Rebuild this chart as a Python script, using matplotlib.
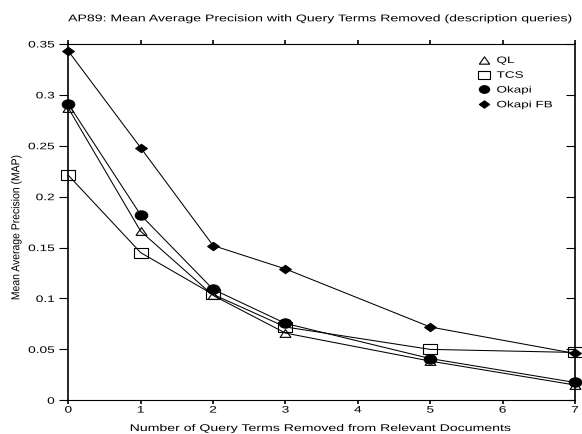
import matplotlib
matplotlib.use('Agg')
import matplotlib.pyplot as plt
from matplotlib.path import Path
from matplotlib.lines import Line2D
from matplotlib.transforms import Affine2D
from matplotlib.patheffects import AbstractPathEffect

plt.rcParams['font.family'] = ['Liberation Sans', 'DejaVu Sans']

terms_removed = [0, 1, 2, 3, 5, 7]
ql = [0.287, 0.166, 0.103, 0.066, 0.0385, 0.015]
tcs = [0.221, 0.145, 0.104, 0.072, 0.050, 0.047]
okapi = [0.291, 0.182, 0.109, 0.0755, 0.041, 0.0175]
okapi_fb = [0.343, 0.248, 0.152, 0.129, 0.072, 0.046]
series_names = ['QL', 'TCS', 'Okapi', 'Okapi FB']

x_ticks = [0, 1, 2, 3, 4, 5, 6, 7]
y_ticks = [0, 0.05, 0.1, 0.15, 0.2, 0.25, 0.3, 0.35]
y_tick_labels = ['0', '0.05', '0.1', '0.15', '0.2', '0.25', '0.3', '0.35']

STRETCH = 1.45


class HStretch(AbstractPathEffect):
    """Widen text horizontally around its left edge, centre or right edge."""

    def __init__(self, sx, anchor='center'):
        super().__init__()
        self.sx = sx
        self.anchor = anchor

    def draw_path(self, renderer, gc, tpath, affine, rgbFace=None):
        bb = tpath.get_extents(affine)
        if self.anchor == 'left':
            cx = bb.x0
        elif self.anchor == 'right':
            cx = bb.x1
        else:
            cx = 0.5 * (bb.x0 + bb.x1)
        t = affine + Affine2D().translate(-cx, 0).scale(self.sx, 1).translate(cx, 0)
        renderer.draw_path(gc, tpath, t, rgbFace)


# markers are wider than tall in the reference
tri = Path([(-0.7, -0.5), (0.7, -0.5), (0, 0.5), (-0.7, -0.5)],
           [Path.MOVETO, Path.LINETO, Path.LINETO, Path.CLOSEPOLY])
sq = Path([(-0.7, -0.48), (0.7, -0.48), (0.7, 0.48), (-0.7, 0.48), (-0.7, -0.48)],
          [Path.MOVETO, Path.LINETO, Path.LINETO, Path.LINETO, Path.CLOSEPOLY])
ell = Path.unit_circle().transformed(Affine2D().scale(0.7, 0.52))
dia = Path([(0, 0.5), (0.7, 0), (0, -0.5), (-0.7, 0), (0, 0.5)],
           [Path.MOVETO, Path.LINETO, Path.LINETO, Path.LINETO, Path.CLOSEPOLY])

styles = [
    dict(marker=tri, markersize=7.8, markerfacecolor='none'),
    dict(marker=sq, markersize=9.7, markerfacecolor='none'),
    dict(marker=ell, markersize=9.0, markerfacecolor='black'),
    dict(marker=dia, markersize=8.4, markerfacecolor='black'),
]
legend_sizes = [7.4, 8.0, 7.4, 7.4]

fig = plt.figure(figsize=(5.82, 4.35), dpi=100)
ax = fig.add_axes([0.1174, 0.0775, 0.8706, 0.8191])

for ys, name, st in zip([ql, tcs, okapi, okapi_fb], series_names, styles):
    ax.plot(terms_removed, ys, color='black', linewidth=0.75,
            markeredgecolor='black', markeredgewidth=0.8, label=name,
            clip_on=False, **st)

ax.set_xlim(0, 7)
ax.set_ylim(0, 0.35)
ax.set_xticks(x_ticks)
ax.set_yticks(y_ticks)
ax.set_yticklabels(y_tick_labels)
ax.tick_params(axis='x', labelsize=6.8, length=3, width=1.2, direction='out',
               pad=0.8, top=True)
ax.tick_params(axis='y', labelsize=6.8, length=6.5, width=0.8, direction='out',
               pad=3.4, right=True)
ax.spines['left'].set_linewidth(1.2)
ax.spines['right'].set_linewidth(1.2)
ax.spines['top'].set_linewidth(0.8)
ax.spines['bottom'].set_linewidth(0.8)

# right-hand ticks point inwards
for tick in ax.yaxis.get_major_ticks():
    tick.tick2line.set_marker(0)

for lab in ax.get_xticklabels():
    lab.set_path_effects([HStretch(STRETCH, 'center')])
for lab in ax.get_yticklabels():
    lab.set_path_effects([HStretch(STRETCH, 'right')])

fig.text(320 / 582, 1 - 22.3 / 435,
         'AP89: Mean Average Precision with Query Terms Removed (description queries)',
         fontsize=7, ha='center', va='baseline',
         path_effects=[HStretch(STRETCH, 'center')])
fig.text(320.5 / 582, 1 - 432 / 435,
         'Number of Query Terms Removed from Relevant Documents',
         fontsize=7, ha='center', va='baseline',
         path_effects=[HStretch(STRETCH, 'center')])
fig.text(16 / 582, 1 - 228.5 / 435, 'Mean Average Precision (MAP)',
         fontsize=7.5, rotation=90, ha='center', va='center',
         path_effects=[HStretch(1.1, 'center')])

handles = [Line2D([], [], linestyle='none', color='black', markeredgecolor='black',
                  markeredgewidth=0.8, **dict(st, markersize=ms))
           for st, ms in zip(styles, legend_sizes)]
leg = ax.legend(handles, series_names, loc='upper left',
                bbox_to_anchor=(479 / 582, 1 - 57 / 435),
                bbox_transform=fig.transFigure, frameon=False, fontsize=6.7,
                handlelength=1.1, handletextpad=0.8, labelspacing=0.62,
                borderpad=0, borderaxespad=0)
for t in leg.get_texts():
    t.set_path_effects([HStretch(STRETCH, 'left')])

fig.savefig('out.png', dpi=100)
